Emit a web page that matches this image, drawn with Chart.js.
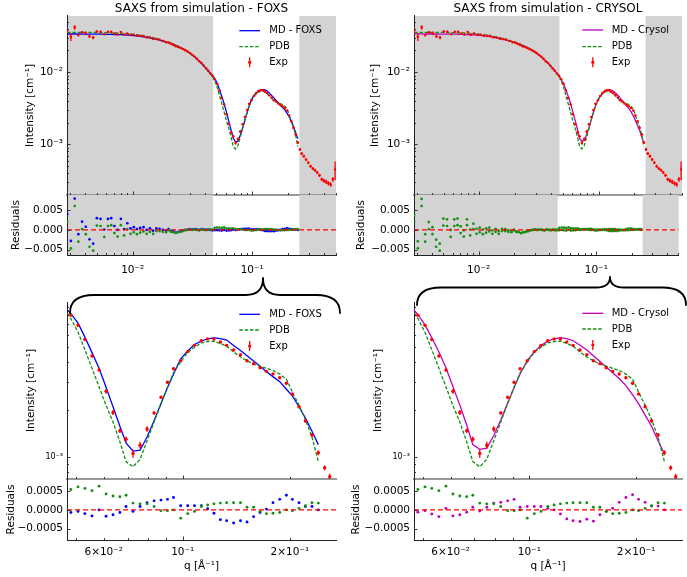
<!DOCTYPE html>
<html><head><meta charset="utf-8">
<script src="https://cdn.jsdelivr.net/npm/chart.js@4.4.1/dist/chart.umd.min.js"></script>
<style>
html,body{margin:0;padding:0;background:#fff;}
#wrap{position:relative;width:687px;height:577px;overflow:hidden;background:#fff;}
#wrap canvas{position:absolute;left:0;top:0;}
</style></head><body><div id="wrap">
<canvas id="tlMain" width="687" height="577"></canvas>
<canvas id="tlRes" width="687" height="577"></canvas>
<canvas id="trMain" width="687" height="577"></canvas>
<canvas id="trRes" width="687" height="577"></canvas>
<canvas id="blMain" width="687" height="577"></canvas>
<canvas id="blRes" width="687" height="577"></canvas>
<canvas id="brMain" width="687" height="577"></canvas>
<canvas id="brRes" width="687" height="577"></canvas>
</div>
<script>
// ---------------- data ----------------
const q = [0.00283,0.00304,0.00327,0.00351,0.00377,0.00405,0.00435,0.00467,0.00501,0.00538,0.00578,0.00621,
0.00661,0.00703,0.00748,0.00796,0.00847,0.00902,0.00959,0.01021,0.01086,0.01156,0.0123,0.01309,0.01393,0.01483,0.01578,0.01679,0.01786,0.01901,
0.01995,0.02089,0.02188,0.02291,0.02399,0.02512,0.0263,0.02754,0.02884,0.0302,0.03162,0.03304,0.03451,0.03606,0.03767,0.03936,0.04111,0.04285,0.04467,0.04656,
0.0485,0.0508,0.0531,0.0556,0.0582,0.0609,0.0637,0.0666,0.0693,0.0725,0.0759,0.0794,0.0831,0.0869,0.0906,0.0942,0.0987,0.1033,0.1079,0.1128,
0.1175,0.1224,0.1276,0.1329,0.139,0.1453,0.1516,0.1582,0.1649,0.1719,0.1793,0.1873,0.1956,0.2033,0.2122,0.2212,0.2308,0.2405,0.2505,0.2588,
0.2702,0.2821,0.2944,0.3074,0.3208,0.335,0.3497,0.3651,0.3811,0.398,0.4155,0.4337,0.4529,0.4728,0.4935];

const expI = [0.0378,0.031,0.0418,0.0327,0.0358,0.0345,0.0313,0.0302,0.0366,0.0364,0.0336,0.0363,
0.0364,0.0343,0.0332,0.0359,0.0331,0.0344,0.0329,0.0329,0.032,0.0319,0.0316,0.0304,0.0302,0.029,0.0289,0.0281,0.027,0.026,
0.0258,0.0247,0.0239,0.0229,0.0223,0.0216,0.0209,0.0202,0.0193,0.0184,0.0173,0.0164,0.0153,0.0142,0.0134,0.0123,0.0113,0.0105,0.0096,0.0089,
0.008,0.0069,0.0056,0.0044,0.00358,0.00262,0.00192,0.00147,0.0013,0.001055,0.00119,0.00151,0.00191,0.0024,0.00299,0.00365,0.0041,0.00469,0.00514,0.0055,
0.00564,0.00564,0.0054,0.00514,0.0048,0.00448,0.0041,0.00393,0.0037,0.00351,0.00338,0.0032,0.00295,0.00252,0.00209,0.0017,0.00138,0.001065,0.000855,0.000749,
0.00069,0.00062,0.00056,0.0005,0.000465,0.00044,0.00041,0.000375,0.00033,0.000315,0.000305,0.00029,0.00028,0.00033,0.00045];

const expErr = [0.0025,0.004,0.003,0.0015,0.0012,0.002,0.0012,0.0015,0.0012,0.001,0.0008,0.001,
0.0008,0.0006,0.0006,0.0008,0.0005,0.0005,0.0004,0.0004,0.0004,0.0003,0.0003,0.0003,0.0003,0.0003,0.00025,0.00025,0.00025,0.0002,
0.0002,0.0002,0.0002,0.0002,0.00018,0.00018,0.00017,0.00016,0.00015,0.00015,0.00014,0.00013,0.00012,0.00012,0.00011,0.0001,0.0001,0.0001,0.0001,0.0001,
0.00012,0.0001,0.00008,0.00007,0.00006,0.00009,0.00007,0.00005,0.00005,0.000065,0.00006,0.00006,0.00005,0.00005,0.00005,0.00005,0.00005,0.00005,0.00005,0.00005,
0.00005,0.00005,0.00005,0.00005,0.00005,0.00005,0.00005,0.00004,0.00004,0.00004,0.00004,0.00004,0.00004,0.00004,0.00004,0.00005,0.00004,0.00004,0.00003,0.000035,
0.00003,0.00003,0.000025,0.000025,0.00002,0.00002,0.00002,0.00002,0.00002,0.00002,0.00002,0.00002,0.00002,0.000025,0.00013];

const foxsI = [0.0338,0.0338,0.0338,0.0338,0.0337,0.0337,0.0337,0.0337,0.0336,0.0336,0.0335,0.0335,
0.0334,0.0333,0.0332,0.0331,0.0329,0.0327,0.0325,0.0322,0.0318,0.0314,0.0309,0.0304,0.0298,0.0292,0.0285,0.0278,0.027,0.0262,
0.0256,0.025,0.0243,0.0236,0.0228,0.022,0.0211,0.0202,0.0192,0.0182,0.0172,0.0162,0.0152,0.0142,0.0132,0.0122,0.0113,0.0104,0.0096,0.009,
0.00818,0.00711,0.0058,0.00462,0.00367,0.00278,0.00209,0.00157,0.00123,0.00109,0.001105,0.00134,0.0017,0.00219,0.00276,0.00337,0.00422,0.00473,0.00521,0.00547,
0.00566,0.00573,0.00568,0.00555,0.00513,0.00476,0.00441,0.00408,0.00378,0.00349,0.00325,0.00302,0.0027,0.00245,0.00209,0.00177,0.00146,0.0012];

const crysolI = [0.0339,0.0339,0.0339,0.0338,0.0338,0.0338,0.0338,0.0337,0.0337,0.0337,0.0336,0.0336,
0.0335,0.0334,0.0333,0.0332,0.033,0.0328,0.0326,0.0323,0.0319,0.0315,0.031,0.0305,0.0299,0.0293,0.0286,0.0279,0.0271,0.0263,
0.0257,0.0251,0.0244,0.0237,0.0229,0.0221,0.0212,0.0203,0.0193,0.0183,0.0173,0.0163,0.0153,0.0143,0.0133,0.0123,0.0114,0.0105,0.0097,0.009,
0.00805,0.00694,0.00575,0.00466,0.0037,0.00281,0.00214,0.0016,0.0012,0.00112,0.00114,0.00137,0.00172,0.00221,0.00277,0.00338,0.00411,0.00468,0.00512,0.00547,
0.00566,0.00575,0.00567,0.0055,0.00515,0.0048,0.00441,0.00405,0.00373,0.00344,0.00316,0.00285,0.00249,0.00219,0.00185,0.00157,0.00127,0.001045];

const pdbI = [0.0357,0.0357,0.0357,0.0357,0.0356,0.0356,0.0356,0.0355,0.0355,0.0354,0.0354,0.0353,
0.0352,0.0351,0.0349,0.0347,0.0345,0.0342,0.0339,0.0335,0.0331,0.0326,0.032,0.0314,0.0307,0.03,0.0292,0.0284,0.0275,0.0266,
0.0259,0.0252,0.0245,0.0237,0.0229,0.0221,0.0212,0.0203,0.0193,0.0183,0.0173,0.0163,0.0153,0.0143,0.0133,0.0123,0.0113,0.0104,0.0095,0.0088,
0.00762,0.00623,0.00482,0.00367,0.0028,0.00213,0.00167,0.00125,0.000937,0.000867,0.000968,0.00127,0.00167,0.00219,0.00278,0.00344,0.00404,0.00464,0.005,0.00532,
0.00543,0.00547,0.00528,0.00508,0.00467,0.00433,0.00411,0.0039,0.00379,0.00367,0.00356,0.00337,0.00313,0.00259,0.00214,0.00173,0.00134,0.000936];

const foxsRes = [0.004,-0.0028,0.008,-0.0011,0.0021,0.0008,-0.0024,-0.0035,0.003,0.0028,0.0001,0.0028,
0.003,0.001,0,0.0028,0.0002,0.0017,0.0004,0.0007,0.0002,0.0005,0.0007,0,0.0004,-0.0002,0.0004,0.0003,0,-0.0002,
0.0002,-0.0003,-0.0004,-0.0007,-0.0005,-0.0004,-0.0002,0,0.0001,0.0002,0.0001,0.0002,0.0001,0,0.0002,0.0001,0,0.0001,0,-0.0001,
-0.00007,-0.00004,-0.0001,-0.00016,0,-0.00017,-0.00013,-0.00007,0.00009,-0.00004,0.00009,0.00019,0.00024,0.00026,0.00028,0.00033,0.00011,0.00011,0.00011,0.00011,
0.00003,-0.00009,-0.00026,-0.00029,-0.00035,-0.00029,-0.00032,-0.00018,-0.00007,0.00002,0.00019,0.00028,0.00039,0.00028,0.00019,0.00009,0.00009,0];

const crysolRes = [0.0039,-0.0029,0.0079,-0.0011,0.002,0.0007,-0.0025,-0.0035,0.0029,0.0027,0,0.0027,
0.0029,0.0009,-0.0001,0.0027,0.0001,0.0016,0.0003,0.0006,0.0001,0.0004,0.0006,-0.0001,0.0003,-0.0003,0.0003,0.0002,-0.0001,-0.0003,
0.0001,-0.0004,-0.0005,-0.0008,-0.0006,-0.0005,-0.0003,-0.0001,0,0.0001,0,0.0001,0,-0.0001,0.0001,0,-0.0001,0,-0.0001,-0.0001,
-0.00006,-0.00002,-0.00011,-0.00018,0.00004,-0.00016,-0.00013,-0.00006,0.00007,-0.00003,0.00007,0.00018,0.0002,0.00024,0.00028,0.00007,0.00009,0.00009,0.00009,0.00004,
0,-0.00011,-0.00024,-0.00029,-0.00031,-0.00025,-0.0003,-0.00013,-0.00004,0.00004,0.0002,0.00033,0.0004,0.00028,0.0002,0.0001,0.0001,0];

const pdbRes = [0.0021,-0.0047,0.0061,-0.003,0.0002,-0.0011,-0.0043,-0.0053,0.0011,0.001,-0.0018,0.001,
0.0012,-0.0008,-0.0017,0.0012,-0.0014,0.0002,-0.001,-0.0006,-0.0011,-0.0007,-0.0004,-0.001,-0.0005,-0.001,-0.0003,-0.0003,-0.0005,-0.0006,
-0.0001,-0.0005,-0.0006,-0.0008,-0.0006,-0.0005,-0.0003,-0.0001,0,0.0001,0,0.0001,0,-0.0001,0.0001,0,0,0.0001,0.0001,0.0001,
0.00054,0.00061,0.00057,0.00051,0.00063,0.00042,0.00037,0.00035,0.00039,0.00018,0.00016,0.00016,0.00009,-0.00002,-0.00002,0,-0.00022,-0.0001,-0.00004,0.00009,
0.00013,0.00016,0.00018,0.00019,0.00019,0.00019,0.00007,0.00007,-0.00004,-0.0001,-0.00009,-0.00007,0,-0.00002,0.00004,0.00011,0.00019,0.00018];

const fitRange = [0.047, 0.248];
const topXRange = [0.00282, 0.502];
const topYRange = [2e-4, 0.06];
const topResRange = [-0.0064, 0.0089];
const zoomXRange = [0.0473, 0.2696];
const zoomYRange = [7.25e-4, 9.7e-3];
const zoomResRange = [-0.0008, 0.00082];

const topXTicks = [0.003,0.004,0.005,0.006,0.007,0.008,0.009,0.01,0.02,0.03,0.04,0.05,0.06,0.07,0.08,0.09,0.1,0.2,0.3,0.4,0.5];
const topXTickLabels = ['','','','','','','','10⁻²','','','','','','','','','10⁻¹','','','',''];
const topYTicks = [3e-4,4e-4,5e-4,6e-4,7e-4,8e-4,9e-4,1e-3,2e-3,3e-3,4e-3,5e-3,6e-3,7e-3,8e-3,9e-3,1e-2,2e-2,3e-2,4e-2,5e-2];
const topYTickLabels = ['','','','','','','','10⁻³','','','','','','','','','10⁻²','','','',''];
const topResTicks = [-0.005, 0, 0.005];
const topResTickLabels = ['−0.005','0.000','0.005'];
const zoomXTicks = [0.05,0.06,0.07,0.08,0.09,0.1,0.2];
const zoomXTickLabels = ['','6×10⁻²','','','','10⁻¹','2×10⁻¹'];
const zoomYTicks = [8e-4,9e-4,1e-3,2e-3,3e-3,4e-3,5e-3,6e-3,7e-3,8e-3,9e-3];
const zoomYTickLabels = ['','','10⁻³','','','','','','','',''];
const zoomResTicks = [-0.0005, 0, 0.0005];
const zoomResTickLabels = ['−0.0005','0.0000','0.0005'];

// ---------------- drawing ----------------
const FONT = "'DejaVu Sans', sans-serif";
Chart.defaults.font.family = FONT;
Chart.defaults.color = '#000';
const COL = {blue:'#0000ff', green:'#138f13', mag:'#bf00bf', red:'#ff0000', shade:'#d3d3d3'};

function pts(xs, ys) { return ys.map((v, i) => ({x: xs[i], y: v})); }

const shadePlugin = {
  id: 'shade',
  beforeDraw(chart, args, o) {
    if (!o || !o.range) return;
    const {ctx, chartArea: a} = chart, x = chart.scales.x;
    const p0 = x.getPixelForValue(o.range[0]), p1 = x.getPixelForValue(o.range[1]);
    ctx.save(); ctx.fillStyle = COL.shade;
    ctx.fillRect(a.left, a.top, p0 - a.left, a.height);
    ctx.fillRect(p1, a.top, a.right - p1, a.height);
    ctx.restore();
  }
};
const errPlugin = {
  id: 'errbars',
  beforeDatasetDraw(chart, args) {
    const ds = chart.data.datasets[args.index];
    if (!ds.errors) return;
    const {ctx, chartArea: a} = chart, y = chart.scales.y;
    ctx.save();
    ctx.beginPath(); ctx.rect(a.left, a.top, a.width, a.height); ctx.clip();
    ctx.strokeStyle = ds.pointBackgroundColor; ctx.lineWidth = ds.errorWidth || 1.2;
    ctx.beginPath();
    ds.data.forEach((p, i) => {
      const e = ds.errors[i], el = args.meta.data[i];
      if (!e || !el) return;
      const y0 = y.getPixelForValue(Math.max(p.y - e, 1e-9)), y1 = y.getPixelForValue(p.y + e);
      ctx.moveTo(el.x, y0); ctx.lineTo(el.x, y1);
    });
    ctx.stroke(); ctx.restore();
  }
};
const tickPlugin = {
  id: 'inTicks',
  afterDatasetsDraw(chart) {
    const {ctx, chartArea: a} = chart, xs = chart.scales.x, ys = chart.scales.y;
    const major = (s, v) => s.type !== 'logarithmic' || Math.abs(Math.log10(v) - Math.round(Math.log10(v))) < 1e-6;
    ctx.save(); ctx.strokeStyle = '#222'; ctx.lineWidth = 0.9; ctx.beginPath();
    xs.ticks.forEach(t => { const p = Math.round(xs.getPixelForValue(t.value)) + 0.5, L = major(xs, t.value) ? 3.5 : 2;
      if (p < a.left - 1 || p > a.right + 1) return; ctx.moveTo(p, a.bottom); ctx.lineTo(p, a.bottom - L); });
    ys.ticks.forEach(t => { const p = Math.round(ys.getPixelForValue(t.value)) + 0.5, L = major(ys, t.value) ? 3.5 : 2;
      if (p < a.top - 1 || p > a.bottom + 1) return; ctx.moveTo(a.left, p); ctx.lineTo(a.left + L, p); });
    ctx.stroke(); ctx.restore();
  }
};
const legendPlugin = {
  id: 'sideLegend',
  afterDraw(chart, args, o) {
    if (!o || !o.rows) return;
    const {ctx, chartArea: a} = chart;
    const items = chart.data.datasets.filter(d => d.legendRank !== undefined).sort((m, n) => m.legendRank - n.legendRank);
    ctx.save(); ctx.font = '10px ' + FONT; ctx.textBaseline = 'middle';
    items.forEach((d, k) => {
      const y = a.top + o.rows[k], x0 = a.right + o.dx0, x1 = a.right + o.dx1;
      if (d.showLine) {
        ctx.strokeStyle = d.borderColor; ctx.lineWidth = d.borderWidth; ctx.setLineDash(d.borderDash || []);
        ctx.beginPath(); ctx.moveTo(x0, y); ctx.lineTo(x1, y); ctx.stroke(); ctx.setLineDash([]);
      } else {
        const xc = (x0 + x1) / 2;
        ctx.strokeStyle = d.pointBackgroundColor; ctx.lineWidth = 1.3;
        ctx.beginPath(); ctx.moveTo(xc, y - 5); ctx.lineTo(xc, y + 5); ctx.stroke();
        ctx.fillStyle = d.pointBackgroundColor; ctx.beginPath(); ctx.arc(xc, y, 1.6, 0, Math.PI * 2); ctx.fill();
      }
      ctx.fillStyle = '#000'; ctx.fillText(d.label, a.right + o.dtx, y);
    });
    ctx.restore();
  }
};
const bracePlugin = {
  id: 'braces',
  afterDraw(chart, args, o) {
    if (!o || !o.list) return;
    const ctx = chart.ctx;
    ctx.save(); ctx.strokeStyle = '#000'; ctx.lineWidth = 1.8; ctx.lineJoin = 'round'; ctx.lineCap = 'round';
    o.list.forEach(b => {
      ctx.beginPath();
      ctx.moveTo(b.x0, b.yEnd);
      ctx.quadraticCurveTo(b.x0, b.yBar, b.x0 + b.r, b.yBar);
      ctx.lineTo(b.xTip - b.t, b.yBar);
      ctx.quadraticCurveTo(b.xTip, b.yBar, b.xTip, b.yTip);
      ctx.quadraticCurveTo(b.xTip, b.yBar, b.xTip + b.t, b.yBar);
      ctx.lineTo(b.x1 - b.r, b.yBar);
      ctx.quadraticCurveTo(b.x1, b.yBar, b.x1, b.yEnd);
      ctx.stroke();
    });
    ctx.restore();
  }
};

const W = 687, H = 577, YW = 67;
const AREA = {topMain:{top:16,bottom:195}, topRes:{top:195,bottom:255}, botMain:{top:302,bottom:479}, botRes:{top:479,bottom:540}};
const COLS = [{left:67, right:336}, {left:414, right:682}];

function panel(id, p) {
  const col = COLS[p.col], area = AREA[p.row];
  const hasTitle = !!p.title;
  const xH = H - area.bottom;
  return new Chart(document.getElementById(id), {
    type: 'scatter',
    data: {datasets: p.datasets},
    options: {
      responsive: false, animation: false, devicePixelRatio: 1, events: [],
      layout: {autoPadding: false, padding: {left: col.left - YW, right: W - col.right, top: hasTitle ? 0 : area.top, bottom: 0}},
      plugins: {
        legend: {display: false}, tooltip: {enabled: false},
        title: hasTitle ? {display: true, text: p.title, fullSize: false, font: {size: 12, weight: 'normal'}, color: '#000', padding: {top: 1.6, bottom: 0}} : {display: false},
        shade: p.shade ? {range: fitRange} : {},
        sideLegend: p.legend || {},
        braces: p.braces || {}
      },
      scales: {
        x: {
          type: 'logarithmic', position: 'bottom', min: p.xr[0], max: p.xr[1], bounds: 'data',
          afterBuildTicks: s => { s.ticks = p.xTicks.map(v => ({value: v})); },
          afterFit: s => { s.height = xH; },
          grid: {display: false, drawTicks: false},
          border: {display: true, color: p.xBorder || '#222', width: p.xBorderW || 1},
          ticks: {display: !!p.xLabels, autoSkip: false, maxRotation: 0, minRotation: 0, padding: p.xPad || 6,
                  font: {size: 10.5}, color: '#000', callback: (v, i) => p.xLabels ? p.xLabels[i] : ''},
          title: p.xTitle ? {display: true, text: p.xTitle, font: {size: 10.5}, color: '#000', padding: {top: 0, bottom: 4.7}} : {display: false}
        },
        y: {
          type: p.yLog ? 'logarithmic' : 'linear', position: 'left', min: p.yr[0], max: p.yr[1], bounds: 'data',
          afterBuildTicks: s => { s.ticks = p.yTicks.map(v => ({value: v})); },
          afterFit: s => { s.width = YW; },
          grid: {display: false, drawTicks: false},
          border: {display: true, color: '#222', width: 1},
          ticks: {autoSkip: false, padding: 4, font: {size: p.yFont || 10.5}, color: '#000', callback: (v, i) => p.yLabels[i]},
          title: {display: true, text: p.yTitle, font: {size: 10.5}, color: '#000', padding: {top: p.yTitlePad, bottom: 0}}
        }
      }
    },
    plugins: [shadePlugin, errPlugin, tickPlugin, legendPlugin, bracePlugin]
  });
}

function expSet(r, clip) {
  return {label: 'Exp', data: pts(q, expI), errors: expErr, errorWidth: 1.3, showLine: false, pointRadius: r, pointHoverRadius: 0,
          pointBackgroundColor: COL.red, pointBorderWidth: 0, order: 0, legendRank: 2, clip: clip};
}
function lineSet(label, ys, color, dash, rank, ord, clip) {
  return {label, data: pts(q, ys), showLine: true, borderColor: color, borderWidth: 1.3, borderDash: dash, pointRadius: 0,
          pointHoverRadius: 0, order: ord, legendRank: rank, clip: clip, tension: 0};
}
function resSet(ys, color, ord, r, clip) {
  return {label: '', data: pts(q, ys), showLine: false, pointRadius: r, pointHoverRadius: 0, pointBackgroundColor: color,
          pointBorderWidth: 0, order: ord, clip: clip};
}
function zeroSet(xr) {
  return {label: '', data: [{x: xr[0], y: 0}, {x: xr[1], y: 0}], showLine: true, borderColor: COL.red, borderWidth: 1.4,
          borderDash: [5, 3], pointRadius: 0, pointHoverRadius: 0, order: -1, clip: 0};
}
const PDB_DASH = [3.5, 1.8];

// top row
panel('tlMain', {col:0, row:'topMain', title:'SAXS from simulation - FOXS', xr: topXRange, yr: topYRange, yLog: true,
  xTicks: topXTicks, yTicks: topYTicks, yLabels: topYTickLabels, yTitle: 'Intensity [cm⁻¹]', yTitlePad: 23.7, shade: true,
  xBorder: '#999', xBorderW: 2, legend: {dx0: -96.7, dx1: -76, dtx: -66.7, rows: [14.7, 30.7, 46.3]},
  datasets: [expSet(1.3), lineSet('PDB', pdbI, COL.green, PDB_DASH, 1, 1), lineSet('MD - FOXS', foxsI, COL.blue, [], 0, 2)]});
panel('tlRes', {col:0, row:'topRes', xr: topXRange, yr: topResRange, yLog: false,
  xTicks: topXTicks, xLabels: topXTickLabels, xPad: 8.5, yTicks: topResTicks, yLabels: topResTickLabels, yTitle: 'Residuals', yTitlePad: 9.7, shade: true,
  datasets: [zeroSet(topXRange), resSet(pdbRes, COL.green, 1, 1.35), resSet(foxsRes, COL.blue, 2, 1.35)]});
panel('trMain', {col:1, row:'topMain', title:'SAXS from simulation - CRYSOL', xr: topXRange, yr: topYRange, yLog: true,
  xTicks: topXTicks, yTicks: topYTicks, yLabels: topYTickLabels, yTitle: 'Intensity [cm⁻¹]', yTitlePad: 21.7, shade: true,
  xBorder: '#999', xBorderW: 2, legend: {dx0: -99.7, dx1: -78.7, dtx: -70.3, rows: [14, 30.7, 46.3]},
  datasets: [expSet(1.3), lineSet('PDB', pdbI, COL.green, PDB_DASH, 1, 1), lineSet('MD - Crysol', crysolI, COL.mag, [], 0, 2)]});
panel('trRes', {col:1, row:'topRes', xr: topXRange, yr: topResRange, yLog: false,
  xTicks: topXTicks, xLabels: topXTickLabels, xPad: 8.5, yTicks: topResTicks, yLabels: topResTickLabels, yTitle: 'Residuals', yTitlePad: 7.7, shade: true,
  datasets: [zeroSet(topXRange), resSet(pdbRes, COL.green, 1, 1.35), resSet(crysolRes, COL.green, 2, 1.35)]});

// bottom row (zoom on fitted range)
panel('blMain', {col:0, row:'botMain', xr: zoomXRange, yr: zoomYRange, yLog: true,
  xTicks: zoomXTicks, yTicks: zoomYTicks, yLabels: zoomYTickLabels, yFont: 8, yTitle: 'Intensity [cm⁻¹]', yTitlePad: 25.4,
  xBorder: '#999', xBorderW: 2, legend: {dx0: -96.7, dx1: -76, dtx: -66.7, rows: [12.3, 28, 44]},
  braces: {list: [{x0: 70, x1: 340, yEnd: 313, yBar: 295, xTip: 263, yTip: 278, r: 24, t: 17},
                  {x0: 417, x1: 686, yEnd: 305, yBar: 287.5, xTip: 610, yTip: 277, r: 24, t: 14}]},
  datasets: [expSet(1.7, 0), lineSet('PDB', pdbI, COL.green, PDB_DASH, 1, 1, 0), lineSet('MD - FOXS', foxsI, COL.blue, [], 0, 2, 0)]});
panel('blRes', {col:0, row:'botRes', xr: zoomXRange, yr: zoomResRange, yLog: false,
  xTicks: zoomXTicks, xLabels: zoomXTickLabels, xPad: 5.5, xTitle: 'q [Å⁻¹]', yTicks: zoomResTicks, yLabels: zoomResTickLabels, yTitle: 'Residuals', yTitlePad: 4.7,
  datasets: [zeroSet(zoomXRange), resSet(pdbRes, COL.green, 1, 1.45, 0), resSet(foxsRes, COL.blue, 2, 1.45, 0)]});
panel('brMain', {col:1, row:'botMain', xr: zoomXRange, yr: zoomYRange, yLog: true,
  xTicks: zoomXTicks, yTicks: zoomYTicks, yLabels: zoomYTickLabels, yFont: 8, yTitle: 'Intensity [cm⁻¹]', yTitlePad: 24.7,
  xBorder: '#999', xBorderW: 2, legend: {dx0: -99.7, dx1: -78.7, dtx: -70.3, rows: [11.3, 27, 43]},
  datasets: [expSet(1.7, 0), lineSet('PDB', pdbI, COL.green, PDB_DASH, 1, 1, 0), lineSet('MD - Crysol', crysolI, COL.mag, [], 0, 2, 0)]});
panel('brRes', {col:1, row:'botRes', xr: zoomXRange, yr: zoomResRange, yLog: false,
  xTicks: zoomXTicks, xLabels: zoomXTickLabels, xPad: 5.5, xTitle: 'q [Å⁻¹]', yTicks: zoomResTicks, yLabels: zoomResTickLabels, yTitle: 'Residuals', yTitlePad: 3.4,
  datasets: [zeroSet(zoomXRange), resSet(pdbRes, COL.green, 1, 1.45, 0), resSet(crysolRes, COL.mag, 2, 1.45, 0)]});
</script></body></html>
